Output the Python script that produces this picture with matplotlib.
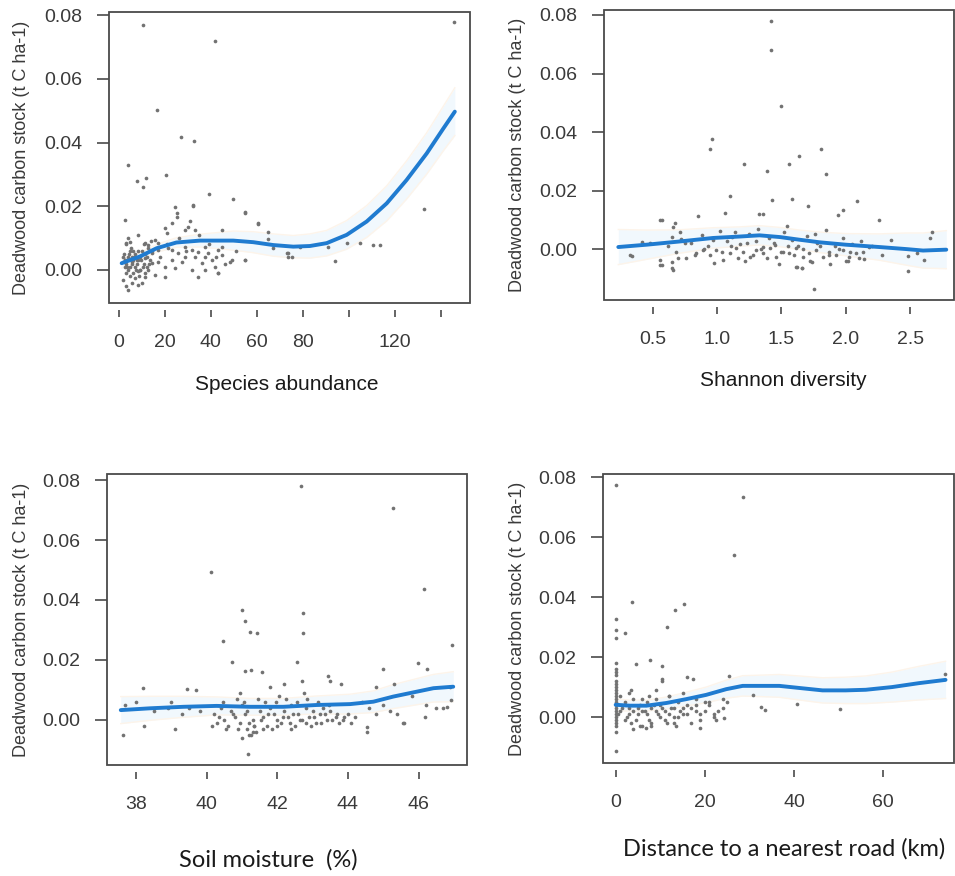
"""
Deadwood carbon stock against four site predictors (2x2 panels, R-style).
Each panel: gray scatter of plots, smoothed fit in blue and a faint band.
"""

import matplotlib
matplotlib.use("Agg")
import matplotlib.pyplot as plt
from matplotlib.patches import Rectangle
import numpy as np

W, H = 955, 876

# ---------------- panel 1: species abundance ----------------
abund_x = [10.6, 41.7, 145.6, 16.4, 27.0, 32.6, 4.1, 7.7, 11.6, 10.6, 20.3, 39.3, 49.7,
           2.6, 32.0, 24.3, 25.1, 25.1, 55.0, 132.6, 60.6, 20.0, 20.7, 22.9, 32.3, 30.9,
           28.7, 33.0, 30.1, 64.6, 72.9, 73.6, 104.8, 110.6, 113.5, 93.9, 99.0, 91.0,
           78.7, 54.8, 48.3, 43.2, 20.0, 4.0, 67.0, 4.1, 4.8, 3.3, 8.4, 11.3, 12.7, 1.9,
           3.3, 5.5, 8.4, 9.9, 7.0, 11.3, 15.7, 17.1, 22.9, 25.8, 28.7, 31.6, 34.5, 37.4,
           40.3, 43.2, 44.7, 41.7, 37.4, 31.6, 27.3, 24.3, 20.0, 17.1, 14.2, 33.0, 36.0,
           38.8, 44.7, 49.0, 54.8, 43.2, 34.5, 15.7, 12.7, 11.3, 8.4, 7.0, 5.5, 4.0, 2.6,
           5.5, 2.6, 8.4, 11.3, 14.2, 17.1, 21.4, 28.7, 37.4, 44.7, 54.8, 60.6, 64.9,
           73.6, 75.1, 3, 4, 5, 6, 7, 8, 9, 3, 6, 10, 12, 13, 2, 5, 9, 11,
           2.5, 3.5, 4.5, 5.5, 6.5, 7.5, 8.5, 9.5, 10.5, 11.5, 12.5, 13.5, 14.5, 3.2, 4.8,
           6.2, 7.8, 9.2, 10.8, 12.2, 2.2, 5.2, 8.8, 13.8, 18, 21, 23, 26, 29, 35, 39, 42,
           46, 51]
abund_y = [0.0769, 0.0718, 0.0779, 0.0502, 0.0416, 0.0406, 0.0329, 0.0280, 0.0288, 0.0259,
           0.0298, 0.0238, 0.0223, 0.0157, 0.0201, 0.0199, 0.0178, 0.0167, 0.0181, 0.0190,
           0.0144, 0.0131, 0.0115, 0.0146, 0.0204, 0.0152, 0.0126, 0.0126, 0.0136, 0.0096,
           0.0052, 0.0042, 0.0086, 0.0078, 0.0078, 0.0029, 0.0084, 0.0073, 0.0073, 0.0031,
           0.0026, -0.0010, -0.0023, -0.0063, 0.0068, 0.0099, 0.0089, 0.0084, 0.0110,
           0.0084, 0.0078, -0.0031, -0.0052, -0.0042, -0.0047, -0.0042, -0.0026, -0.0021,
           0.0094, 0.0084, 0.0063, 0.0052, 0.0042, 0.0063, 0.0057, 0.0042, 0.0031, 0.0063,
           0.0047, 0.0010, 0.0000, 0.0000, 0.0026, 0.0005, 0.0010, 0.0026, 0.0021, 0.0042,
           0.0021, 0.0052, 0.0073, 0.0031, 0.0031, -0.0010, -0.0021, -0.0016, 0.0000,
           -0.0010, -0.0005, 0.0010, 0.0026, 0.0000, 0.0010, 0.0042, 0.0031, 0.0031,
           0.0037, 0.0052, 0.0063, 0.0068, 0.0073, 0.0073, 0.0126, 0.0178, 0.0146, 0.0120,
           0.0052, 0.0042, 0.002, 0.004, 0.001, 0.003, 0.005, 0.002, 0.004, -0.001, -0.001,
           0.006, 0.004, 0.002, 0.004, 0.006, 0.000, 0.002,
           0.003, 0.001, 0.005, 0.002, 0.004, 0.000, 0.006, 0.003, 0.001, 0.005, 0.007,
           0.003, 0.006, 0.008, -0.002, 0.006, 0.003, 0.000, 0.008, 0.001, 0.005, 0.007,
           -0.002, 0.009, 0.004, 0.008, 0.003, 0.010, 0.006, 0.011, 0.008, 0.004, 0.002,
           0.006]
abund_fit_x = [1.2, 9.1, 16.4, 25, 35.2, 42.5, 49.7, 58.4, 67.1, 75.8, 83, 90.3, 99,
               107.7, 116.4, 125, 133.8, 141, 146]
abund_fit_y = [0.0021, 0.0042, 0.0068, 0.0086, 0.0092, 0.0092, 0.0092, 0.0087, 0.0078,
               0.0073, 0.0075, 0.0084, 0.0110, 0.0152, 0.0209, 0.0282, 0.0366, 0.0444, 0.0497]
abund_fit_se = [0.0015, 0.0012, 0.0012, 0.0015, 0.0020, 0.0025, 0.0030, 0.0033, 0.0035,
                0.0035, 0.0038, 0.0040, 0.0045, 0.0050, 0.0055, 0.0060, 0.0065, 0.0070, 0.0075]

# ---------------- panel 2: Shannon diversity ----------------
shan_x = [1.42, 1.416, 1.50, 0.962, 0.949, 1.81, 1.64, 1.56, 1.21, 1.39, 1.85, 1.10, 1.43,
          1.58, 2.09, 1.71, 1.33, 1.36, 1.06, 0.85, 1.94, 1.98, 2.26, 0.57, 0.66, 2.67,
          2.65, 2.48, 2.48, 2.61, 1.75, 0.34, 0.57, 0.65, 1.61, 1.66, 2.00, 0.324, 0.556,
          0.673, 0.647, 0.711, 0.556, 0.556, 0.647, 0.66, 0.698,
          0.763, 0.841, 0.892, 0.944, 0.995, 1.047, 1.098, 1.15, 1.201, 1.253, 1.305,
          1.356, 1.408, 1.459, 1.511, 1.562, 1.614, 1.666, 1.717, 1.769, 1.82, 1.872,
          1.924, 1.975, 2.027, 2.079, 2.13,
          0.72, 0.80, 0.88, 0.93, 1.02, 1.08, 1.12, 1.18, 1.25, 1.30, 1.36, 1.40, 1.45,
          1.52, 1.58, 1.63, 1.70, 1.78, 1.85, 1.92, 1.98, 2.05, 2.12, 2.18,
          0.98, 1.22, 1.48, 1.62, 1.66, 1.74, 1.88, 2.02, 2.14, 0.42, 0.48, 2.35, 2.55,
          0.62, 0.68, 0.75, 0.83, 0.90, 0.97, 1.04, 1.11, 1.16, 1.23, 1.28, 1.34, 1.39,
          1.44, 1.50, 1.55, 1.60, 1.67, 1.72, 1.80, 1.87, 1.95, 2.03, 2.10, 2.20, 2.28,
          1.14, 1.32, 1.54, 1.76]
shan_y = [0.0781, 0.0679, 0.0490, 0.0376, 0.0343, 0.0343, 0.0319, 0.0291, 0.0291, 0.0266,
          0.0256, 0.0180, 0.0169, 0.0171, 0.0165, 0.0146, 0.0120, 0.0120, 0.0123, 0.0112,
          0.0117, 0.0134, 0.0098, 0.0098, 0.0077, 0.0058, 0.0038, -0.0076, -0.0025,
          -0.0036, -0.0136, -0.0023, -0.0054, -0.0065, -0.0060, -0.0065, -0.0042,
          -0.0021, 0.0099, 0.0088, 0.0042, 0.0059, -0.0038, -0.0055, -0.0043, -0.0072,
          -0.0032,
          -0.0032, -0.0015, -0.0003, -0.0021, -0.0003, -0.0038, -0.0015, 0.0002, -0.0009,
          -0.0026, -0.0003, -0.0015, 0.0002, -0.0026, -0.0009, -0.0015, 0.0002, -0.0026,
          -0.0015, -0.0003, -0.0026, -0.0009, -0.0021, -0.0003, -0.0026, -0.0015, -0.0009,
          0.0035, 0.0022, 0.0048, 0.0012, 0.0061, 0.0029, 0.0041, 0.0018, 0.0052, 0.0027,
          0.0008, 0.0039, 0.0014, 0.0058, 0.0031, 0.0011, 0.0045, 0.0022, 0.0066, 0.0009,
          0.0037, 0.0019, 0.0028, 0.0006,
          -0.0048, -0.0041, -0.0052, -0.0061, -0.0066, -0.0044, -0.0050, -0.0041,
          -0.0035, 0.0025, 0.0020, 0.0030, -0.0015,
          0.001, -0.001, 0.002, -0.002, 0.000, 0.003, -0.001, 0.001, -0.003, 0.002,
          -0.002, 0.000, -0.003, 0.002, -0.001, 0.001, -0.002, 0.000, -0.004, 0.001,
          -0.002, 0.000, -0.001, -0.003, 0.001, -0.002, 0.006, 0.007, 0.008, 0.005]
shan_fit_x = [0.234, 0.454, 0.71, 0.97, 1.18, 1.33, 1.49, 1.64, 1.80, 2.0, 2.26, 2.47,
              2.60, 2.78]
shan_fit_y = [0.0007, 0.0015, 0.0026, 0.0038, 0.0043, 0.0047, 0.0041, 0.0032, 0.0023,
              0.0015, 0.0007, 0.0000, -0.0005, -0.0002]
shan_fit_se = [0.0060, 0.0050, 0.0040, 0.0035, 0.0033, 0.0033, 0.0033, 0.0033, 0.0035,
               0.0038, 0.0045, 0.0055, 0.0060, 0.0065]

# ---------------- panel 3: soil moisture ----------------
soil_x = [42.66, 45.28, 40.12, 46.15, 40.99, 41.10, 42.74, 41.23, 41.42, 42.72, 40.47,
          46.95, 40.71, 42.55, 45.99, 44.98, 46.23, 41.08, 41.27, 41.56, 43.44, 38.20,
          39.45, 37.62, 38.23, 39.10, 41.18, 41.20, 44.53, 44.53, 45.57, 46.18, 46.93,
          46.80,
          40.2, 40.3, 40.4, 40.5, 40.6, 40.7, 40.8, 40.9, 41.0, 41.1, 41.2, 41.3, 41.4,
          41.5, 41.6, 41.7, 41.8, 41.9, 42.0, 42.1, 42.2, 42.3, 42.4, 42.5, 42.6, 42.7,
          42.8, 42.9, 43.0, 43.1, 43.2, 43.3, 43.4, 43.5, 43.7, 43.9, 44.1, 40.45, 40.85,
          41.05, 41.25, 41.45, 41.65, 41.95, 42.25, 42.55, 42.85, 43.15, 43.45, 41.15,
          41.35, 40.95, 42.05, 42.75,
          38.9, 39.0, 39.3, 39.5, 39.8, 38.5, 38.0, 37.7, 44.4, 44.6, 44.8, 45.0, 45.2,
          45.4, 45.6, 45.3, 45.8, 46.2, 46.5, 46.7, 46.9, 43.8, 43.5, 42.7, 42.2, 41.8,
          39.7, 44.8,
          40.15, 40.35, 40.55, 40.75, 40.95, 41.15, 41.35, 41.55, 41.75, 41.85, 42.15,
          42.35, 42.45, 42.65, 42.95, 43.05, 43.25, 43.35, 43.55, 43.65, 43.75, 43.85,
          44.0, 44.2, 41.0, 41.3, 41.6, 42.0, 42.4, 42.8]
soil_y = [0.0780, 0.0706, 0.0492, 0.0436, 0.0367, 0.0330, 0.0358, 0.0294, 0.0291, 0.0289,
          0.0264, 0.0250, 0.0194, 0.0194, 0.0191, 0.0169, 0.0169, 0.0164, 0.0167, 0.0161,
          0.0147, 0.0106, 0.0102, -0.0050, -0.0019, -0.0030, -0.0114, -0.0050, -0.0024,
          -0.0039, -0.0009, 0.0011, 0.0067, 0.0042,
          0.002, -0.001, 0.004, 0.000, -0.002, 0.003, 0.001, -0.003, 0.005, 0.002, -0.001,
          0.000, -0.004, 0.003, 0.001, -0.002, 0.004, 0.002, 0.000, -0.001, 0.003, 0.001,
          0.005, -0.002, 0.002, 0.000, 0.004, 0.001, 0.003, -0.001, 0.002, 0.004, 0.000,
          0.003, 0.002, 0.001, -0.001, 0.006, 0.007, 0.006, -0.005, 0.007, 0.006, 0.006,
          0.007, 0.006, 0.007, 0.006, 0.005, -0.003, -0.002, 0.009, 0.008, 0.009,
          0.004, 0.006, 0.002, 0.004, 0.003, 0.003, 0.006, 0.005, 0.006, 0.004, 0.002,
          0.005, 0.003, 0.002, -0.001, 0.012, 0.008, 0.005, 0.004, 0.004, 0.011, 0.012,
          0.013, 0.013, 0.012, 0.011, 0.010, 0.011,
          -0.002, 0.001, -0.003, 0.002, -0.001, 0.003, -0.002, 0.000, 0.002, -0.003,
          0.001, -0.001, 0.002, 0.000, -0.002, 0.001, -0.001, 0.002, 0.000, 0.001,
          -0.001, 0.000, 0.002, 0.001, -0.006, -0.004, -0.003, -0.002, -0.003, -0.001]
soil_fit_x = [37.57, 38.4, 39.34, 40.28, 41.23, 42.17, 43.11, 44.06, 44.72, 45.28, 45.85,
              46.42, 46.98]
soil_fit_y = [0.0033, 0.0039, 0.0044, 0.0047, 0.0044, 0.0044, 0.0050, 0.0053, 0.0061,
              0.0078, 0.0092, 0.0106, 0.0111]
soil_fit_se = [0.0045, 0.0040, 0.0035, 0.0030, 0.0028, 0.0028, 0.0030, 0.0033, 0.0036,
               0.0040, 0.0043, 0.0046, 0.0050]

# ---------------- panel 4: distance to road ----------------
road_x = [0, 28.5, 26.5, 3.6, 13.3, 15.3, 11.5, 2.2, 0, 0, 0, 4.5, 7.8, 10.5, 0, 15.9,
          17.4, 10.3, 10.3, 25.4, 30.8, 32.5, 33.6, 40.7, 50.4, 73.8, 18.9, 6.9, 5.4,
          24.4, 22.6,
          0, 0, 0, 0, 0, 0, 0, 0, 0, 0, 0, 0, 0, 0, 0, 0, 0, 0, 0, 0, 0,
          1, 2, 2.5, 3, 3.5, 4, 5, 5.5, 6, 6.5, 7, 7.5, 8, 9, 9.5, 10, 11, 11.5, 12,
          12.5, 13, 14, 14.5, 15, 16, 17, 18, 19, 20, 21, 22, 23, 24, 25,
          3, 6, 9, 12, 15, 18, 21, 4, 8, 13,
          0.5, 1.5, 2, 3, 4, 4.5, 5, 6, 7, 8, 8.5, 9, 10, 10.5, 11, 12, 13, 13.5, 14, 15,
          16, 17, 18, 19, 20, 22, 24, 1, 3.5, 7.5]
road_y = [0.0774, 0.0732, 0.0541, 0.0382, 0.0358, 0.0377, 0.0299, 0.0280, 0.0327, 0.0291,
          0.0263, 0.0178, 0.0191, 0.0169, -0.0114, 0.0133, 0.0128, 0.0127, 0.0119, 0.0136,
          0.0074, 0.0033, 0.0022, 0.0044, 0.0027, 0.0143, -0.0037, -0.0037, -0.0030,
          -0.0003, -0.0009,
          0.018, 0.016, 0.015, 0.014, 0.012, 0.011, 0.010, 0.009, 0.008, 0.007, 0.006,
          0.005, 0.004, 0.003, 0.002, 0.001, 0.000, -0.001, -0.002, -0.003, -0.005,
          0.002, 0.005, 0.000, 0.003, -0.002, 0.006, 0.001, 0.004, -0.003, 0.002, 0.005,
          -0.001, 0.003, 0.006, 0.001, 0.004, 0.002, -0.002, 0.007, 0.003, 0.000, 0.005,
          0.002, 0.001, 0.004, 0.003, 0.004, -0.001, 0.002, 0.004, 0.001, 0.002, 0.003,
          0.005, 0.008, 0.006, 0.009, 0.007, 0.008, 0.006, 0.005, -0.004, -0.003, -0.002,
          0.001, 0.003, -0.001, 0.001, 0.002, -0.001, 0.003, 0.002, 0.001, -0.002, 0.004,
          0.002, 0.000, 0.003, -0.001, 0.001, 0.003, -0.003, 0.000, 0.003, 0.001, -0.002,
          0.002, 0.001, 0.005, 0.000, 0.006, 0.007, 0.009, 0.007]
road_fit_x = [0, 3.2, 6.9, 11.4, 15.9, 20.3, 24.8, 28.5, 33, 36.7, 41.2, 46.4, 51.6, 56.1,
              62, 68, 74]
road_fit_y = [0.0041, 0.0038, 0.0038, 0.0047, 0.0060, 0.0074, 0.0093, 0.0104, 0.0104,
              0.0104, 0.0097, 0.0089, 0.0089, 0.0091, 0.0100, 0.0113, 0.0124]
road_fit_se = [0.0020, 0.0018, 0.0018, 0.0020, 0.0023, 0.0026, 0.0030, 0.0034, 0.0036,
               0.0038, 0.0040, 0.0042, 0.0044, 0.0046, 0.0050, 0.0056, 0.0062]

y_ticks = [0.00, 0.02, 0.04, 0.06, 0.08]
y_tick_labels = ["0.00", "0.02", "0.04", "0.06", "0.08"]
y_title = "Deadwood carbon stock (t C ha-1)"


def px_box(left, top, right, bottom):
    """Pixel box of the plot area -> figure fraction [l, b, w, h]."""
    return [left / W, 1 - bottom / H, (right - left) / W, (bottom - top) / H]


plt.rcParams["font.family"] = ["Liberation Sans", "DejaVu Sans"]
fig = plt.figure(figsize=(W / 100, H / 100), dpi=100)

panels = [
    dict(box=(109, 12, 470, 303), xlim=(-4.3, 152.6), ylim=(-0.0104, 0.081),
         xt=[0, 20, 40, 60, 80, 100, 120, 140],
         xtl=["0", "20", "40", "60", "80", "", "120", ""],
         pts=(abund_x, abund_y), fit=(abund_fit_x, abund_fit_y, abund_fit_se),
         ylab_x=22, xlab="Species abundance", xlab_pos=(287, 384),
         xlab_font=("Liberation Sans", 15)),
    dict(box=(604, 10, 954, 300), xlim=(0.123, 2.84), ylim=(-0.0174, 0.0817),
         xt=[0.5, 1.0, 1.5, 2.0, 2.5], xtl=["0.5", "1.0", "1.5", "2.0", "2.5"],
         pts=(shan_x, shan_y), fit=(shan_fit_x, shan_fit_y, shan_fit_se),
         ylab_x=518, xlab="Shannon diversity", xlab_pos=(783, 380),
         xlab_font=("Liberation Sans", 15)),
    dict(box=(107, 474, 467, 765), xlim=(37.18, 47.37), ylim=(-0.015, 0.082),
         xt=[38, 40, 42, 44, 46], xtl=["38", "40", "42", "44", "46"],
         pts=(soil_x, soil_y), fit=(soil_fit_x, soil_fit_y, soil_fit_se),
         ylab_x=22, xlab="Soil moisture  (%)", xlab_pos=(268, 860),
         xlab_font=("Lato", 17)),
    dict(box=(603, 474, 954, 763), xlim=(-2.84, 75.9), ylim=(-0.0153, 0.081),
         xt=[0, 20, 40, 60], xtl=["0", "20", "40", "60"],
         pts=(road_x, road_y), fit=(road_fit_x, road_fit_y, road_fit_se),
         ylab_x=517, xlab="Distance to a nearest road (km)", xlab_pos=(784, 849),
         xlab_font=("Lato", 17)),
]

for p in panels:
    ax = fig.add_axes(px_box(*p["box"]))
    ax.set_xlim(*p["xlim"])
    ax.set_ylim(*p["ylim"])

    fx, fy, fse = (np.array(a) for a in p["fit"])
    # very faint confidence band, light blue with warm edges like the original
    ax.fill_between(fx, fy - fse, fy + fse, color="#f1f8fd", lw=0, zorder=1)
    ax.plot(fx, fy - fse, color="#fdf4ea", lw=1.0, zorder=1)
    ax.plot(fx, fy + fse, color="#fdf4ea", lw=1.0, zorder=1)

    ax.scatter(p["pts"][0], p["pts"][1], s=7, color="#727272", lw=0, zorder=2)
    ax.plot(fx, fy, color="#1f7bd0", lw=2.8, zorder=3, solid_capstyle="round",
            solid_joinstyle="round")

    # R-like box: the x axis ticks sit a little below the frame
    for s in ax.spines.values():
        s.set_visible(False)
    ax.spines["bottom"].set_position(("outward", 5))
    ax.add_patch(Rectangle((0, 0), 1, 1, transform=ax.transAxes, fill=False,
                           ec="#4a4a4a", lw=1.3, clip_on=False, zorder=5))

    ax.set_xticks(p["xt"])
    ax.set_xticklabels(p["xtl"])
    ax.set_yticks(y_ticks)
    ax.set_yticklabels(y_tick_labels)
    ax.tick_params(axis="x", direction="out", length=5, width=1.2, pad=12,
                   color="#4a4a4a", labelsize=14, labelcolor="#3a3a3a")
    ax.tick_params(axis="y", direction="out", length=9, width=1.2, pad=10,
                   color="#4a4a4a", labelsize=14, labelcolor="#3a3a3a")

    # axis titles placed in pixels
    top, bottom = p["box"][1], p["box"][3]
    fig.text(p["ylab_x"] / W, 1 - (top + bottom) / 2 / H, y_title, rotation=90,
             ha="center", va="center", fontsize=13, color="#3a3a3a")
    fam, size = p["xlab_font"]
    fig.text(p["xlab_pos"][0] / W, 1 - p["xlab_pos"][1] / H, p["xlab"],
             ha="center", va="center", fontsize=size, color="#1a1a1a",
             family=[fam, "DejaVu Sans"])

fig.savefig("out.png", dpi=100, facecolor="white")
